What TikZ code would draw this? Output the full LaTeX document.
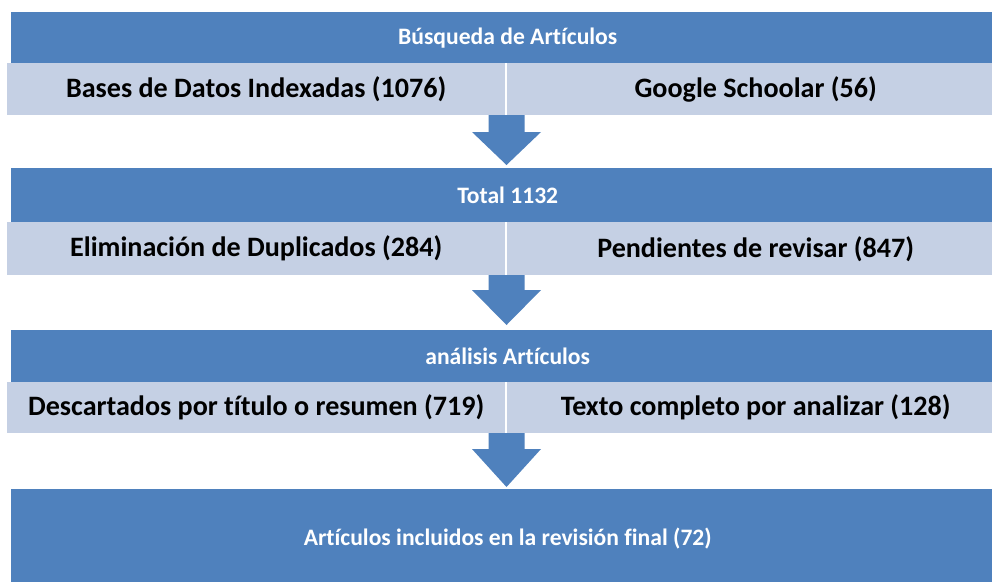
\documentclass[tikz,border=0pt]{standalone}
\usepackage{fontspec}
\setmainfont{Carlito}[Ligatures={NoCommon}]
\usetikzlibrary{calc}
\definecolor{hdrblue}{HTML}{4F81BD}
\definecolor{subblue}{HTML}{C5D0E4}
\tikzset{
  hdrbox/.style={fill=hdrblue, draw=none, text=white, inner sep=0pt, anchor=north west,
    minimum width=993pt, font=\bfseries\fontsize{23.6}{28}\selectfont},
  subbox/.style={fill=subblue, draw=none, text=black, inner sep=0pt, anchor=north west,
    font=\bfseries\fontsize{28.1}{33}\selectfont},
  blockarrowfill/.style={fill=hdrblue, draw=none}
}
\newcommand\blockarrow[3]{%
  \path[blockarrowfill] let \p1=(#1), \p2=(#2), \p3=(#3) in
    (\x1-18pt,\y1) -- (\x1+18pt,\y1) -- (\x1+18pt,\y2) -- (\x1+34.5pt,\y2) --
    (\x3,\y3) -- (\x1-34.5pt,\y2) -- (\x1-18pt,\y2) -- cycle;}
\begin{document}
\begin{tikzpicture}[x=1pt,y=-1pt]
\useasboundingbox (0,0) rectangle (992,581);
\fill[white] (0,0) rectangle (992,581);
\clip (0,0) rectangle (992,581);

% band 1
\node[hdrbox, minimum height=51pt] (h1) at (11,12) {Búsqueda de Artículos};
\node[subbox, minimum width=498pt, minimum height=52pt] (s1l) at (7,63) {Bases de Datos Indexadas (1076)};
\node[subbox, minimum width=497pt, minimum height=52pt] (s1r) at (507,63) {Google Schoolar (56)};

% band 2
\node[hdrbox, minimum height=54pt] (h2) at (11,168) {Total 1132};
\node[subbox, minimum width=498pt, minimum height=53pt] (s2l) at (7,222) {Eliminación de Duplicados (284)};
\node[subbox, minimum width=497pt, minimum height=53pt] (s2r) at (507,222) {Pendientes de revisar (847)};

% band 3
\node[hdrbox, minimum height=52pt] (h3) at (11,330) {análisis Artículos};
\node[subbox, minimum width=498pt, minimum height=51pt] (s3l) at (7,382) {Descartados por título o resumen (719)};
\node[subbox, minimum width=497pt, minimum height=51pt] (s3r) at (507,382) {Texto completo por analizar (128)};

% final
\node[hdrbox, minimum height=98pt] (fin) at (11,489) {Artículos incluidos en la revisión final (72)};

% arrows
\coordinate (a1s) at (506.5,115); \coordinate (a1h) at (506.5,132); \coordinate (a1t) at (506.5,165);
\coordinate (a2s) at (506.5,275); \coordinate (a2h) at (506.5,290); \coordinate (a2t) at (506.5,325);
\coordinate (a3s) at (506.5,433); \coordinate (a3h) at (506.5,449); \coordinate (a3t) at (506.5,487);
\blockarrow{a1s}{a1h}{a1t}
\blockarrow{a2s}{a2h}{a2t}
\blockarrow{a3s}{a3h}{a3t}
\end{tikzpicture}
\end{document}
